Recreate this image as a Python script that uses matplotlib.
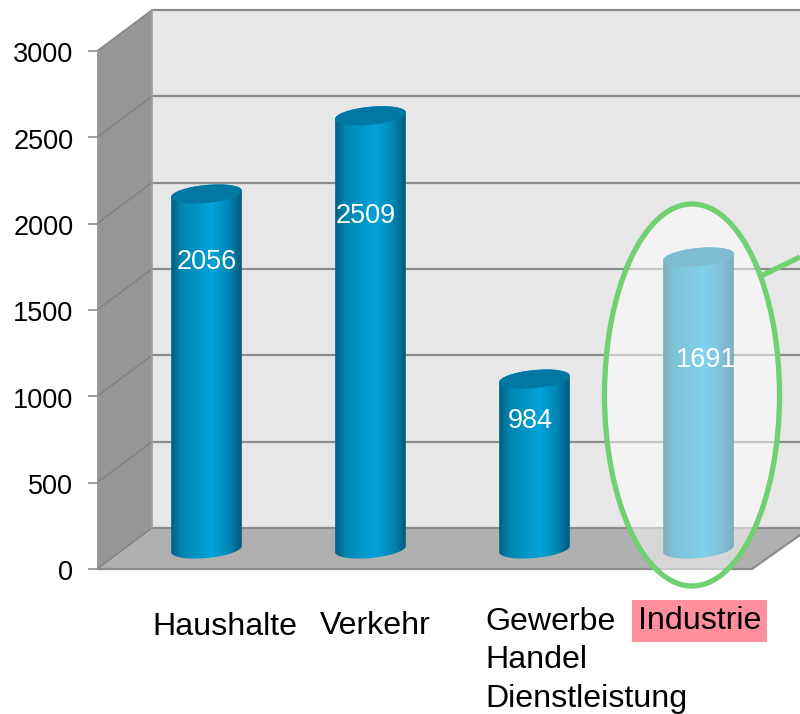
import numpy as np
import matplotlib
matplotlib.use('Agg')
import matplotlib.pyplot as plt
from matplotlib.colors import LinearSegmentedColormap
from matplotlib.patches import Ellipse, Polygon
from matplotlib.transforms import ScaledTranslation

categories = [['Haushalte'], ['Verkehr'], ['Gewerbe', 'Handel', 'Dienstleistung'], ['Industrie']]
values = [2056, 2509, 984, 1691]
yticks = [0, 500, 1000, 1500, 2000, 2500, 3000]

plt.rcParams['font.family'] = ['Liberation Sans', 'DejaVu Sans']

# layout, in pixels of the 800x714 picture
W, H = 800, 714
left = 97
zeroPx = 569
unitsPerPx = 3000 / 518.0
depthX, depthY = 55, 41
barX = [206.5, 370.5, 534.5, 698.5]
barW, capH = 71, 18
tilt = np.radians(5.5)
baseDrop = 20  # cylinder base centre sits above the front edge
labelPos = [(207, 262), (366, 216), (530, 421), (706, 360)]
catPos = [(152, 627), (320, 626), (485, 622), (638, 621)]
lineStep = [38.5, 38.5]


def py(pixel):
    """pixel row -> value on the y scale"""
    return (zeroPx - pixel) * unitsPerPx


def ellipse_pts(cx, cyPx, t):
    x = cx + barW / 2.0 * np.cos(t) * np.cos(tilt) + capH / 2.0 * np.sin(t) * np.sin(tilt)
    yp = cyPx - barW / 2.0 * np.cos(t) * np.sin(tilt) + capH / 2.0 * np.sin(t) * np.cos(tilt)
    return x, yp


fig = plt.figure(figsize=(W / 100.0, H / 100.0), dpi=100)
ax = fig.add_axes([left / float(W), 0, 1 - left / float(W), 1])
for s in ax.spines.values():
    s.set_visible(False)

# back wall, side wall, floor
wallC = '#e7e7e7'
top = yticks[-1]
ax.add_patch(Polygon([(left + depthX, py(zeroPx - depthY)), (W, py(zeroPx - depthY)),
                      (W, top + depthY * unitsPerPx), (left + depthX, top + depthY * unitsPerPx)],
                     fc=wallC, ec='none', zorder=1))
ax.add_patch(Polygon([(left, 0), (left + depthX, depthY * unitsPerPx),
                      (left + depthX, top + depthY * unitsPerPx), (left, top)],
                     fc='#969696', ec='none', zorder=1))
ax.add_patch(Polygon([(left, 0), (left + depthX, depthY * unitsPerPx), (W, depthY * unitsPerPx),
                      (W, py(535)), (752, 0)],
                     fc='#b0b0b0', ec='none', zorder=1))

gridC = '#8c8c8c'
for t in yticks:
    ax.plot([left + depthX, W], [t + depthY * unitsPerPx] * 2, color=gridC, lw=1.6, zorder=2,
            solid_capstyle='butt')
    ax.plot([left, left + depthX], [t, t + depthY * unitsPerPx], color='#808080', lw=1.0, zorder=2)
ax.plot([left + depthX, left + depthX], [depthY * unitsPerPx, top + depthY * unitsPerPx],
        color='#a0a0a0', lw=1.2, zorder=2)
ax.plot([left, left], [0, top], color='#a0a0a0', lw=1.2, zorder=2)
ax.plot([left, 752, W], [0, 0, py(535)], color=gridC, lw=1.6, zorder=2, solid_joinstyle='miter')

# cylinders
cmap = LinearSegmentedColormap.from_list('cyl', [(0, '#005f82'), (0.15, '#0085b0'), (0.58, '#00a3da'),
                                                 (0.82, '#0086b3'), (1, '#005a7c')])
grad = np.linspace(0, 1, 128).reshape(1, -1)
t_front = np.linspace(0, np.pi, 60)
for i in range(len(values)):
    cx = barX[i]
    basePx = zeroPx - baseDrop
    topPx = basePx - values[i] / unitsPerPx
    xb, yb = ellipse_pts(cx, basePx, t_front)
    xt, yt = ellipse_pts(cx, topPx, np.linspace(np.pi, 2 * np.pi, 60))
    body = np.column_stack([np.r_[xb, xt], py(np.r_[yb, yt])])
    im = ax.imshow(grad, cmap=cmap, aspect='auto', zorder=3, interpolation='bilinear',
                   extent=[cx - barW / 2.0, cx + barW / 2.0, py(basePx + 20), py(topPx - 20)])
    clip = Polygon(body, transform=ax.transData, fc='none', ec='none')
    ax.add_patch(clip)
    im.set_clip_path(clip)
    xc, yc = ellipse_pts(cx, topPx, np.linspace(0, 2 * np.pi, 120))
    ax.add_patch(Polygon(np.column_stack([xc, py(yc)]), fc='#0078a3', ec='none', zorder=4))
    ax.text(labelPos[i][0], py(labelPos[i][1]), str(values[i]), color='white', fontsize=19.5,
            ha='center', va='center', zorder=5)

# highlight on the last category
ellCx, ellCy, ellW, ellH = 692, 395, 175, 382
ax.add_patch(Ellipse((ellCx, py(ellCy)), ellW, ellH * unitsPerPx, fc=(1, 1, 1, 0.5),
                     ec='#6fd16f', lw=3.8, zorder=6))
ax.plot([761, W], [py(276), py(257)], color='#6fd16f', lw=3.8, zorder=6, solid_capstyle='butt')

# category labels
for i in range(len(categories)):
    yp = catPos[i][1]
    for j in range(len(categories[i])):
        bbox = None
        if categories[i][j] == 'Industrie':
            bbox = dict(fc='#ff8f9c', ec='none', pad=4.5)
        ax.text(catPos[i][0], py(yp), categories[i][j], fontsize=23.1, ha='left', va='center',
                bbox=bbox, zorder=7)
        if j < len(lineStep):
            yp += lineStep[j]

ax.set_xlim(left, W)
ax.set_ylim(py(H), py(0))
ax.set_xticks([])
ax.set_yticks(yticks)
ax.tick_params(axis='y', length=6.5, width=1.2, color=gridC, labelsize=19.5, pad=10.5)
shift = ScaledTranslation(0, -1.2 / 100.0, fig.dpi_scale_trans)
for lab in ax.get_yticklabels():
    lab.set_transform(lab.get_transform() + shift)
fig.savefig('out.png', dpi=100, facecolor='white')
